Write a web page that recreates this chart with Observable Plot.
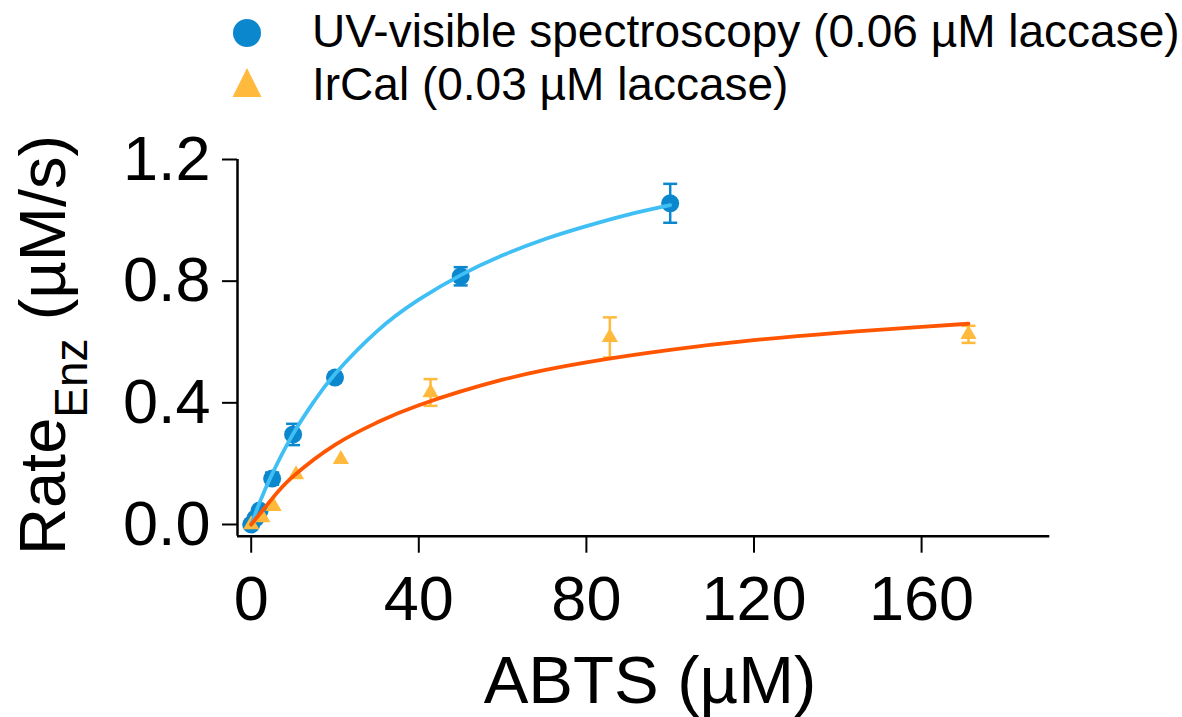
<!DOCTYPE html>
<html>
<head>
<meta charset="utf-8">
<script src="https://cdn.jsdelivr.net/npm/d3@7"></script>
<script src="https://cdn.jsdelivr.net/npm/@observablehq/plot@0.6"></script>
<style>
  body { margin: 0; background: #fff; font-family: "Liberation Sans", Arial, sans-serif; }
  #legend svg, #chart svg { display: block; }
</style>
</head>
<body>
<div id="legend"></div>
<div id="chart"></div>
<script>
// UV-visible spectroscopy, 0.06 µM laccase: ABTS (µM) vs rate (µM/s) ± error
const uvAbts = [0, 1, 2, 5, 10, 20, 50, 100];
const uvRate = [0, 0.02, 0.046, 0.151, 0.296, 0.483, 0.816, 1.056];
const uvErr  = [0, 0, 0, 0.02, 0.035, 0.015, 0.03, 0.064];

// IrCal, 0.03 µM laccase
const irAbts = [0, 2.68, 5.35, 10.7, 21.4, 42.8, 85.6, 171.2];
const irRate = [0, 0.023, 0.06, 0.164, 0.214, 0.434, 0.615, 0.625];
const irErr  = [0, 0, 0, 0, 0, 0.044, 0.066, 0.028];

// Michaelis–Menten fit curves, sampled along ABTS
const uvFitAbts = [0, 2, 5, 10, 15, 20, 30, 40, 50, 60, 70, 80, 90, 100];
const uvFitRate = [0, 0.072, 0.166, 0.298, 0.405, 0.495, 0.635, 0.739, 0.820, 0.885, 0.938, 0.981, 1.019, 1.050];
const irFitAbts = [0, 5, 10, 20, 30, 40, 60, 80, 100, 120, 140, 160, 171.2];
const irFitRate = [0, 0.085, 0.158, 0.262, 0.335, 0.392, 0.476, 0.533, 0.574, 0.606, 0.630, 0.650, 0.660];

// Axis ticks
const xTicks = [0, 40, 80, 120, 160];
const yTicks = [0, 0.4, 0.8, 1.2];

// Series labels
const seriesNames = ["UV-visible spectroscopy (0.06 µM laccase)", "IrCal (0.03 µM laccase)"];

const COL_UV_DOT = "#0B87CE";
const COL_UV_LINE = "#40BFF5";
const COL_IR_DOT = "#FFBA3D";
const COL_IR_LINE = "#FF5500";
const FONT = "Liberation Sans, Arial, sans-serif";

const zip = (xs, ys, es) => xs.map((x, i) => ({x, y: ys[i], e: es ? es[i] : 0}));
const uv = zip(uvAbts, uvRate, uvErr);
const ir = zip(irAbts, irRate, irErr);
const uvFit = zip(uvFitAbts, uvFitRate);
const irFit = zip(irFitAbts, irFitRate);

// horizontal cap used on the error bars
const capSymbol = {
  draw(ctx, size) {
    const r = Math.sqrt(size / Math.PI);
    ctx.moveTo(-r, 0);
    ctx.lineTo(r, 0);
  }
};

const errorBars = (data, color) => {
  const d = data.filter(p => p.e > 0);
  return [
    Plot.ruleX(d, {x: "x", y1: p => p.y - p.e, y2: p => p.y + p.e, stroke: color, strokeWidth: 2.5}),
    Plot.dot(d, {x: "x", y: p => p.y + p.e, symbol: capSymbol, r: 7, stroke: color, strokeWidth: 2.5, fill: "none"}),
    Plot.dot(d, {x: "x", y: p => p.y - p.e, symbol: capSymbol, r: 7, stroke: color, strokeWidth: 2.5, fill: "none"})
  ];
};

const xDomain = [-3.27, 190.6];
const yDomain = [-0.0385, 1.2];

const chart = Plot.plot({
  width: 1182,
  height: 602,
  marginLeft: 237,
  marginRight: 132.7,
  marginTop: 44,
  marginBottom: 181.3,
  style: {fontFamily: FONT, color: "#000", background: "#fff", overflow: "visible"},
  x: {domain: xDomain},
  y: {domain: yDomain},
  marks: [
    Plot.axisX(xTicks, {tickSize: 17, tickPadding: 22, strokeWidth: 2, fontSize: 63, label: null}),
    Plot.axisY(yTicks, {tickSize: 15, tickPadding: 12, strokeWidth: 2, fontSize: 63, label: null, tickFormat: d3.format(".1f")}),
    Plot.ruleX([xDomain[0]], {stroke: "#000", strokeWidth: 2.5}),
    Plot.ruleY([yDomain[0]], {stroke: "#000", strokeWidth: 2.5}),
    ...errorBars(uv, COL_UV_DOT),
    Plot.dot(uv, {x: "x", y: "y", r: 9, fill: COL_UV_DOT}),
    ...errorBars(ir, COL_IR_DOT),
    Plot.dot(ir, {x: "x", y: "y", symbol: "triangle", r: 6, fill: COL_IR_DOT}),
    Plot.line(uvFit, {x: "x", y: "y", stroke: COL_UV_LINE, strokeWidth: 3.8, curve: "natural"}),
    Plot.line(irFit, {x: "x", y: "y", stroke: COL_IR_LINE, strokeWidth: 3.8, curve: "natural"})
  ]
});

// Axis titles
const svg = d3.select(chart);
const yTitle = svg.append("text")
  .attr("transform", "translate(65,440) rotate(-90)")
  .attr("text-anchor", "start")
  .attr("font-family", FONT)
  .attr("font-size", 65)
  .attr("fill", "#000");
yTitle.append("tspan").text("Rate");
yTitle.append("tspan").attr("font-size", 46).attr("dy", 22).text("Enz");
yTitle.append("tspan").attr("dy", -22).text(" (µM/s)");

svg.append("text")
  .attr("x", 650)
  .attr("y", 588)
  .attr("text-anchor", "middle")
  .attr("font-family", FONT)
  .attr("font-size", 67)
  .attr("fill", "#000")
  .text("ABTS (µM)");

document.getElementById("chart").appendChild(chart);

// Legend above the plot
const leg = d3.select("#legend").append("svg")
  .attr("width", 1182)
  .attr("height", 115);
leg.append("circle").attr("cx", 247).attr("cy", 33).attr("r", 14).attr("fill", COL_UV_DOT);
leg.append("path").attr("d", "M247,68L261.5,97L232.5,97Z").attr("fill", COL_IR_DOT);
leg.selectAll("text.series")
  .data(seriesNames)
  .join("text")
  .attr("class", "series")
  .attr("x", 312)
  .attr("y", (d, i) => 47 + i * 53)
  .attr("font-family", FONT)
  .attr("font-size", 46)
  .attr("fill", "#000")
  .text(d => d);
</script>
</body>
</html>
